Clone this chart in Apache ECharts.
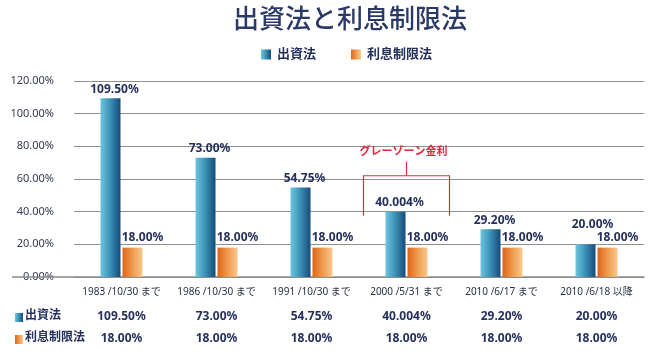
<!DOCTYPE html>
<html><head><meta charset="utf-8">
<script src="https://cdn.jsdelivr.net/npm/echarts@6/dist/echarts.min.js"></script>
<style>html,body{margin:0;padding:0;background:#fff}#c{width:650px;height:356px}</style>
</head><body><div id="c"></div>
<script>
const categories = ['1983 /10/30 まで','1986 /10/30 まで','1991 /10/30 まで','2000 /5/31 まで','2010 /6/17 まで','2010 /6/18 以降'];
const seriesNames = ['出資法','利息制限法'];
const shusshiValues = [109.5, 73.0, 54.75, 40.004, 29.2, 20.0];
const seigenValues = [18.0, 18.0, 18.0, 18.0, 18.0, 18.0];
const shusshiLabels = ['109.50%','73.00%','54.75%','40.004%','29.20%','20.00%'];
const seigenLabels = ['18.00%','18.00%','18.00%','18.00%','18.00%','18.00%'];
const yTicks = [0,20,40,60,80,100,120];
const titleText = '出資法と利息制限法';
const annotationText = 'グレーゾーン金利';
const annotationIndex = 3;

const FONT = '"Noto Sans","Noto Sans CJK JP",sans-serif';
const NAVY = '#25305c';
const blueGrad = new echarts.graphic.LinearGradient(0,0,1,0,[{offset:0,color:'#6cc6dd'},{offset:0.5,color:'#3a8fb5'},{offset:1,color:'#174a7a'}]);
const orangeGrad = new echarts.graphic.LinearGradient(0,0,1,0,[{offset:0,color:'#df6418'},{offset:0.5,color:'#ef9a4e'},{offset:1,color:'#f9c98d'}]);

const chart = echarts.init(document.getElementById('c'), null, {renderer:'canvas'});

const blueData = shusshiValues.map((v,i)=>{
  const item = {value:v};
  if (i === shusshiValues.length-1) item.label = {distance:14, offset:[7,0]};
  return item;
});

const option = {
  animation:false,
  textStyle:{fontFamily:FONT},
  title:{text:titleText,left:228,top:3,textStyle:{fontFamily:FONT,fontSize:26,fontWeight:'500',color:'#2b3966'}},
  legend:{left:256,top:43,itemWidth:10,itemHeight:10,itemGap:35,icon:'rect',
    textStyle:{fontFamily:FONT,fontSize:13,fontWeight:'bold',color:NAVY,padding:[0,0,0,1]},
    data:seriesNames},
  grid:{left:74,right:6,top:81,bottom:79},
  xAxis:[
    {type:'category',data:categories,axisLine:{show:true,lineStyle:{color:'#8a8a8a',width:1.5}},axisTick:{show:false},
     axisLabel:{interval:0,margin:10,fontSize:10,color:'#2a2f45',fontFamily:FONT}},
    {type:'category',position:'bottom',offset:34,data:shusshiLabels,axisLine:{show:false},axisTick:{show:false},
     axisLabel:{interval:0,margin:0,fontSize:12,fontWeight:'bold',color:NAVY,fontFamily:FONT}},
    {type:'category',position:'bottom',offset:56,data:seigenLabels,axisLine:{show:false},axisTick:{show:false},
     axisLabel:{interval:0,margin:0,fontSize:12,fontWeight:'bold',color:NAVY,fontFamily:FONT}}
  ],
  yAxis:{type:'value',min:yTicks[0],max:yTicks[yTicks.length-1],interval:yTicks[1]-yTicks[0],
    axisLine:{show:false},axisTick:{show:false},
    axisLabel:{margin:20,fontSize:11,color:'#333a50',fontFamily:FONT,formatter:v=>v.toFixed(2)+'%'},
    splitLine:{lineStyle:{color:'#8f8f8f',width:1}}},
  series:[
    {name:seriesNames[0],type:'bar',xAxisIndex:0,barWidth:20,barGap:'10%',data:blueData,
     itemStyle:{color:blueGrad},
     label:{show:true,position:'top',distance:3,offset:[4,0],fontSize:12,fontWeight:'bold',color:NAVY,fontFamily:FONT,
       formatter:p=>shusshiLabels[p.dataIndex]}},
    {name:seriesNames[1],type:'bar',xAxisIndex:0,barWidth:20,barGap:'10%',data:seigenValues,
     itemStyle:{color:orangeGrad},
     label:{show:true,position:'top',distance:4,offset:[10,0],fontSize:12,fontWeight:'bold',color:NAVY,fontFamily:FONT,
       formatter:p=>seigenLabels[p.dataIndex]}}
  ]
};
chart.setOption(option);

// decorations anchored to the axes
const base = chart.convertToPixel({yAxisIndex:0}, 0);
const cx = chart.convertToPixel({xAxisIndex:0}, categories[annotationIndex]);
const yTopBar = chart.convertToPixel({yAxisIndex:0}, 62);
const yBottom = chart.convertToPixel({yAxisIndex:0}, 37.5);
const half = 43;
const RED = '#e4283e';
chart.setOption({graphic:[
  {type:'line',shape:{x1:12,y1:base,x2:74,y2:base},style:{stroke:'#8a8a8a',lineWidth:1.5},z:10},
  {type:'rect',shape:{x:15,y:313,width:8,height:9},style:{fill:blueGrad}},
  {type:'text',left:25,top:310,style:{text:seriesNames[0],font:'bold 12px '+FONT,fill:NAVY}},
  {type:'rect',shape:{x:15,y:335,width:8,height:9},style:{fill:orangeGrad}},
  {type:'text',left:25,top:332,style:{text:seriesNames[1],font:'bold 12px '+FONT,fill:NAVY}},
  {type:'polyline',shape:{points:[[cx-half,yBottom],[cx-half,yTopBar],[cx+half,yTopBar],[cx+half,yBottom]]},style:{stroke:RED,lineWidth:1.2,fill:null}},
  {type:'line',shape:{x1:cx,y1:yTopBar-14,x2:cx,y2:yTopBar},style:{stroke:RED,lineWidth:1.2}},
  {type:'text',x:cx-3,y:yTopBar-24,style:{text:annotationText,font:'bold 11px '+FONT,fill:RED,align:'center',verticalAlign:'middle'}}
]});
</script></body></html>
